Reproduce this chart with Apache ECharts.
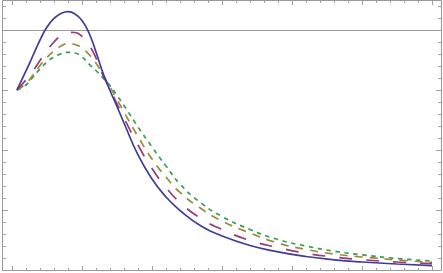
<!DOCTYPE html>
<html><head><meta charset="utf-8">
<script src="https://cdn.jsdelivr.net/npm/echarts@6/dist/echarts.min.js"></script>
<style>html,body{margin:0;padding:0;background:#fff}#c{width:443px;height:273px}</style>
</head><body><div id="c"></div>
<script>
// sample abscissae (major x tick = 1 unit)
const xValues = [0.07,0.2,0.3,0.4,0.5,0.6,0.7,0.8,0.9,1.0,1.1,1.2,1.3,1.4,1.5,1.6,1.8,2.0,2.2,2.4,2.7,3.0,3.4,3.8,4.2,4.6,5.0,5.5,6.0];
// curves (major y tick = 1 unit)
const blueSolid   = [3.000,3.317,3.575,3.833,4.050,4.192,4.275,4.305,4.267,4.158,3.950,3.633,3.283,2.992,2.725,2.450,1.917,1.517,1.217,0.992,0.733,0.567,0.408,0.303,0.225,0.170,0.133,0.100,0.073];
const purpleLong  = [3.000,3.167,3.317,3.492,3.658,3.800,3.908,3.962,3.958,3.892,3.750,3.533,3.242,3.017,2.767,2.533,2.083,1.692,1.375,1.125,0.858,0.675,0.492,0.375,0.280,0.217,0.172,0.133,0.105];
const orangeMid   = [3.000,3.108,3.250,3.408,3.542,3.650,3.733,3.775,3.758,3.700,3.592,3.450,3.250,3.050,2.842,2.633,2.225,1.850,1.550,1.292,1.025,0.817,0.617,0.450,0.342,0.267,0.217,0.167,0.128];
const greenShort  = [3.000,3.083,3.217,3.350,3.467,3.550,3.603,3.628,3.617,3.550,3.433,3.325,3.200,3.075,2.908,2.742,2.383,2.050,1.733,1.433,1.117,0.892,0.675,0.508,0.400,0.313,0.253,0.192,0.150];
const refLevel = 4;
// tick ranges
const xTickMax = 6;
const yTickMax = 4;
const yTopMinorCount = 2;

const pair = ys => xValues.map((x, i) => [x, ys[i]]);
const tickColor = '#a0a0a0';

const chart = echarts.init(document.getElementById('c'), null, {renderer: 'canvas'});
const tickAxis = (extra) => Object.assign({
  type: 'value', min: 0, interval: 1,
  axisLine: {show: false, onZero: false},
  axisLabel: {show: false},
  splitLine: {show: false}
}, extra);

chart.setOption({
  animation: false,
  backgroundColor: '#ffffff',
  grid: [
    {left: 2.5, top: 0.5, width: 439, height: 270, show: true, borderColor: '#999999', borderWidth: 1, backgroundColor: 'transparent'},
    {left: 12, top: 0.5, width: 420, height: 270},
    {left: 2.5, top: 30, width: 439, height: 240},
    {left: 2.5, top: 6, width: 439, height: 24}
  ],
  xAxis: [
    {gridIndex: 0, type: 'value', min: -9.5/70, max: 6 + 9.5/70, show: false},
    tickAxis({gridIndex: 1, position: 'bottom', max: xTickMax,
      axisTick: {show: true, inside: true, length: 4.5, lineStyle: {color: tickColor}},
      minorTick: {show: true, splitNumber: 5, length: 2.5, lineStyle: {color: tickColor}}}),
    tickAxis({gridIndex: 1, position: 'top', max: xTickMax,
      axisTick: {show: true, inside: true, length: 4.5, lineStyle: {color: tickColor}},
      minorTick: {show: true, splitNumber: 5, length: 2.5, lineStyle: {color: tickColor}}}),
    {gridIndex: 2, type: 'value', min: 0, max: 1, show: false},
    {gridIndex: 3, type: 'value', min: 0, max: 1, show: false}
  ],
  yAxis: [
    {gridIndex: 0, type: 'value', min: -0.5/60, max: 269.5/60, show: false},
    {gridIndex: 1, type: 'value', min: 0, max: 1, show: false},
    tickAxis({gridIndex: 2, position: 'left', max: yTickMax,
      axisTick: {show: true, inside: true, length: 5.5, lineStyle: {color: tickColor}},
      minorTick: {show: true, splitNumber: 5, length: 3.5, lineStyle: {color: tickColor}}}),
    tickAxis({gridIndex: 2, position: 'right', max: yTickMax,
      axisTick: {show: true, inside: true, length: 5.5, lineStyle: {color: tickColor}},
      minorTick: {show: true, splitNumber: 5, length: 3.5, lineStyle: {color: tickColor}}}),
    tickAxis({gridIndex: 3, position: 'left', max: yTopMinorCount,
      axisTick: {show: true, inside: true, length: 3.5, lineStyle: {color: tickColor}}}),
    tickAxis({gridIndex: 3, position: 'right', max: yTopMinorCount,
      axisTick: {show: true, inside: true, length: 3.5, lineStyle: {color: tickColor}}})
  ],
  series: [
    {type: 'line', xAxisIndex: 0, yAxisIndex: 0, data: pair(greenShort), smooth: true, symbol: 'none',
      lineStyle: {color: '#3D9956', width: 1.7, type: [4.5, 4.5]}, z: 2},
    {type: 'line', xAxisIndex: 0, yAxisIndex: 0, data: pair(orangeMid), smooth: true, symbol: 'none',
      lineStyle: {color: '#998B3D', width: 1.7, type: [8, 7]}, z: 3},
    {type: 'line', xAxisIndex: 0, yAxisIndex: 0, data: pair(purpleLong), smooth: true, symbol: 'none',
      lineStyle: {color: '#993D71', width: 1.7, type: [13, 14]}, z: 4},
    {type: 'line', xAxisIndex: 0, yAxisIndex: 0, data: pair(blueSolid), smooth: true, symbol: 'none',
      lineStyle: {color: '#3F3D99', width: 1.7}, z: 5,
      markLine: {silent: true, symbol: 'none', label: {show: false},
        lineStyle: {color: '#999999', width: 1, type: 'solid'},
        data: [{yAxis: refLevel}]}}
  ]
});
</script></body></html>
